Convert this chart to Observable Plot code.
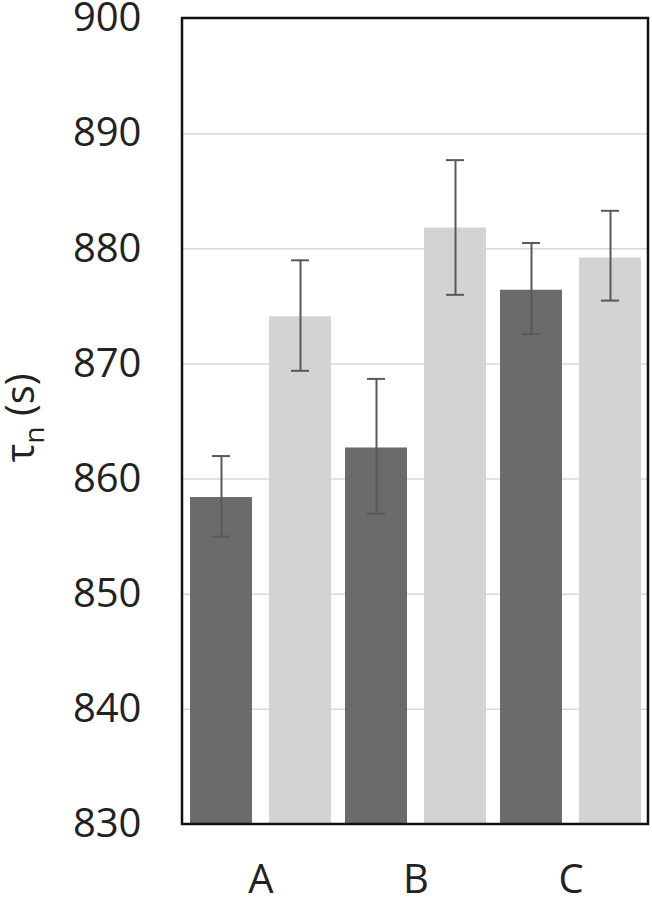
<!DOCTYPE html>
<html><head><meta charset="utf-8">
<script src="https://cdn.jsdelivr.net/npm/d3@7"></script>
<script src="https://cdn.jsdelivr.net/npm/@observablehq/plot@0.6"></script>
<style>body{margin:0;background:#fff} svg{display:block}</style>
</head><body><div id="chart"></div>
<script>
const groups = ["A", "B", "C"];
const series = ["dark", "light"];
const darkMean = [858.4, 862.7, 876.4];
const darkHigh = [862.0, 868.7, 880.5];
const darkLow = [855.0, 857.0, 872.6];
const lightMean = [874.1, 881.8, 879.2];
const lightHigh = [879.0, 887.7, 883.3];
const lightLow = [869.4, 876.0, 875.5];
const yTicks = [830, 840, 850, 860, 870, 880, 890, 900];
const gridTicks = [840, 850, 860, 870, 880, 890];

const data = groups.flatMap((g, i) => [
  {group: g, series: "dark", mean: darkMean[i], lo: darkLow[i], hi: darkHigh[i]},
  {group: g, series: "light", mean: lightMean[i], lo: lightLow[i], hi: lightHigh[i]}
]);

const errColor = "#595959";
const plot = Plot.plot({
  width: 652, height: 900,
  marginLeft: 182, marginRight: 4, marginTop: 18, marginBottom: 76,
  style: {fontFamily: "'Open Sans', sans-serif", fontSize: "40px", color: "#222", background: "#fff", overflow: "visible"},
  facet: {data: data, x: "group"},
  fx: {domain: groups, padding: 0, label: null, tickSize: 0, tickPadding: 40},
  x: {domain: series, paddingInner: 0.214, paddingOuter: 0.084, axis: null},
  y: {domain: [830, 900], ticks: yTicks, tickSize: 0, tickPadding: 42, label: null},
  color: {domain: series, range: ["#6b6b6b", "#d3d3d3"]},
  marks: [
    Plot.ruleY(gridTicks, {stroke: "#d9d9d9", strokeWidth: 1.5}),
    Plot.barY(data, {x: "series", y1: 830, y2: "mean", fill: "series"}),
    Plot.ruleX(data, {x: "series", y1: "lo", y2: "hi", stroke: errColor, strokeWidth: 2}),
    Plot.tickY(data, {x: "series", y: "lo", stroke: errColor, strokeWidth: 2, insetLeft: 22, insetRight: 22}),
    Plot.tickY(data, {x: "series", y: "hi", stroke: errColor, strokeWidth: 2, insetLeft: 22, insetRight: 22})
  ]
});

const svg = d3.select(plot);
const fxr = plot.scale("fx").range;
const yr = plot.scale("y").range;
const yTop = Math.min(...yr), yBot = Math.max(...yr);
svg.append("rect")
  .attr("x", fxr[0]).attr("y", yTop)
  .attr("width", fxr[1] - fxr[0]).attr("height", yBot - yTop)
  .attr("fill", "none").attr("stroke", "#111").attr("stroke-width", 2.5);

const lab = svg.append("text")
  .attr("transform", `translate(34, ${(yTop + yBot) / 2 - 3}) rotate(-90)`)
  .attr("text-anchor", "middle")
  .attr("font-family", "'Open Sans', sans-serif")
  .attr("font-size", 40)
  .attr("fill", "#222");
lab.append("tspan").text("τ");
lab.append("tspan").attr("font-size", 28).attr("dy", 10).text("n");
lab.append("tspan").attr("dy", -10).text(" (s)");

document.getElementById("chart").appendChild(plot);
</script>
</body></html>
